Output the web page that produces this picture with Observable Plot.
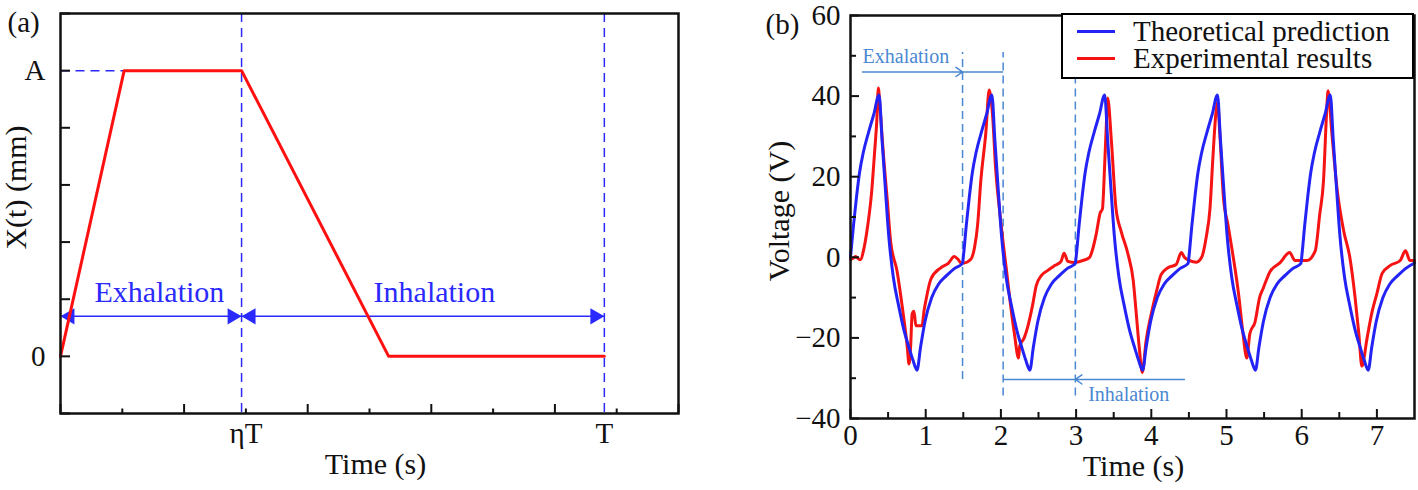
<!DOCTYPE html>
<html>
<head>
<meta charset="utf-8">
<script src="https://cdn.jsdelivr.net/npm/d3@7"></script>
<script src="https://cdn.jsdelivr.net/npm/@observablehq/plot@0.6"></script>
<style>
  html, body { margin: 0; padding: 0; background: #fff; }
  #wrap { position: relative; width: 1418px; height: 490px; overflow: hidden;
          font-family: "Liberation Serif", "DejaVu Serif", serif; }
  #wrap svg.plot { position: absolute; top: 0; }
  #wrap svg text { font-family: "Liberation Serif", "DejaVu Serif", serif; }
  #legend { position: absolute; left: 1061px; top: 13px; width: 353px; height: 66px;
            box-sizing: border-box; border: 2px solid #000; background: #fff;
            font-family: "Liberation Serif", "DejaVu Serif", serif; font-size: 29px; color: #111; }
  #legend .row { position: absolute; left: 0; height: 27px; width: 100%; white-space: nowrap; }
  #legend svg { position: absolute; left: 14px; top: 0; }
  #legend span { position: absolute; left: 70px; top: 0; line-height: 27px; }
</style>
</head>
<body>
<div id="wrap"></div>
<script>
// ================= DATA =================
// Panel (a): displacement profile X(t)
const aTime = [0, 1.03, 2.93, 5.31, 8.8];
const aDisp = [0, 5, 5, 0, 0];
const aEtaT = 2.93, aT = 8.8, aA = 5;
const aXTicksMajor = [0, 2, 4, 6, 8, 10];
const aXTicksMinor = [1, 3, 5, 7, 9];
const aYTicks = [-1, 0, 1, 2, 3, 4, 5, 6];
const aXLabelPos = [3, 8.8];
const aXLabelText = ["ηT", "T"];
const aYLabelPos = [0, 5];
const aYLabelText = ["0", "A"];
const aArrowY = 0.7;
const aPhaseName = ["Exhalation", "Inhalation"];
const aPhaseFrom = [0, 2.93];
const aPhaseTo = [2.93, 8.8];
const aPhaseLabelX = [1.6, 6.05];

// Panel (b): voltage vs time
const theoryT = [
  0.00,0.04,0.08,0.12,0.17,0.24,0.31,0.38,0.42,0.46,0.51,0.57,0.64,0.71,0.78,0.83,0.885,0.93,0.99,1.08,1.17,1.28,1.38,1.49,
  1.50,1.54,1.58,1.62,1.67,1.74,1.81,1.88,1.92,1.96,2.01,2.07,2.14,2.21,2.28,2.33,2.385,2.43,2.49,2.58,2.67,2.78,2.88,2.99,
  3.00,3.04,3.08,3.12,3.17,3.24,3.31,3.38,3.42,3.46,3.51,3.57,3.64,3.71,3.78,3.83,3.885,3.93,3.99,4.08,4.17,4.28,4.38,4.49,
  4.50,4.54,4.58,4.62,4.67,4.74,4.81,4.88,4.92,4.96,5.01,5.07,5.14,5.21,5.28,5.33,5.385,5.43,5.49,5.58,5.67,5.78,5.88,5.99,
  6.00,6.04,6.08,6.12,6.17,6.24,6.31,6.38,6.42,6.46,6.51,6.57,6.64,6.71,6.78,6.83,6.885,6.93,6.99,7.08,7.17,7.28,7.38,7.50
];
const theoryV = [
  0,8,15,21,26,31,35.5,40.3,29,18,5,-5,-12,-18,-22.5,-25.5,-28,-22.5,-16,-10,-6.7,-4.5,-2.8,-1.5,
  0,8,15,21,26,31,35.5,40.3,29,18,5,-5,-12,-18,-22.5,-25.5,-28,-22.5,-16,-10,-6.7,-4.5,-2.8,-1.5,
  0,8,15,21,26,31,35.5,40.3,29,18,5,-5,-12,-18,-22.5,-25.5,-28,-22.5,-16,-10,-6.7,-4.5,-2.8,-1.5,
  0,8,15,21,26,31,35.5,40.3,29,18,5,-5,-12,-18,-22.5,-25.5,-28,-22.5,-16,-10,-6.7,-4.5,-2.8,-1.5,
  0,8,15,21,26,31,35.5,40.3,29,18,5,-5,-12,-18,-22.5,-25.5,-28,-22.5,-16,-10,-6.7,-4.5,-2.8,-1.4
];
const exptT = [
  0.00,0.04,0.07,0.10,0.13,0.18,0.23,0.28,0.32,0.35,0.37,0.39,0.42,0.444,0.49,0.533,0.62,0.69,0.756,0.778,0.80,0.82,0.844,0.87,0.95,0.98,1.00,1.067,1.20,1.30,1.38,1.43,1.47,
  1.51,1.60,1.65,1.69,1.733,1.80,1.844,1.89,1.93,1.98,2.04,2.07,2.11,2.18,2.235,2.25,2.31,2.36,2.42,2.47,2.54,2.62,2.72,2.80,2.84,2.89,2.98,
  3.09,3.18,3.22,3.27,3.32,3.35,3.38,3.40,3.42,3.47,3.53,3.60,3.69,3.76,3.80,3.84,3.88,3.93,4.00,4.07,4.13,4.22,4.33,4.40,4.44,4.51,
  4.60,4.67,4.73,4.78,4.82,4.86,4.88,4.91,4.96,5.02,5.09,5.16,5.22,5.27,5.31,5.38,5.44,5.49,5.58,5.71,5.84,5.91,
  6.07,6.18,6.24,6.29,6.33,6.35,6.40,6.47,6.56,6.64,6.71,6.76,6.80,6.87,6.93,7.00,7.07,7.18,7.31,7.38,7.44,7.50
];
const exptV = [
  -0.6,-0.2,0.2,-0.3,-0.6,2.3,8,16,26,34,42,38,30,24,14,4,-3.5,-12.5,-22.4,-26.5,-22,-14,-13.4,-17,-17,-13,-11,-5.5,-2.6,-1.5,0.2,-0.5,-1.4,
  -1.4,-0.5,2.5,8,19,31,41.5,35,22,12,2,-2.5,-9,-19,-25,-22,-20,-17,-12,-7,-4.5,-3.3,-2,-1,1,-1,-1.3,
  -0.8,0,2,6,11,12,23,32,39.5,28.7,12.2,6.4,0.8,-5.8,-14,-22.4,-28.6,-20.8,-14,-8.4,-4.3,-2.6,-1.8,1.2,0,-0.8,
  -1.2,0,5,12,25,36,38.5,31,14.7,8,0,-9,-19,-25,-19,-16,-10,-7.6,-3.5,-1.4,1.2,-0.8,
  -0.8,1.6,10.7,19,35.5,41.3,31,17,6.4,0,-10,-19,-27,-20,-14,-9,-4,-2,-0.8,1.6,-0.8,-0.8
];
const seriesNames = ["Theoretical prediction", "Experimental results"];
const seriesColors = ["#2323f5", "#f51313"];
const bXTicksMajor = [0, 1, 2, 3, 4, 5, 6, 7];
const bXTicksMinor = [0.5, 1.5, 2.5, 3.5, 4.5, 5.5, 6.5];
const bYTicksMajor = [-40, -20, 0, 20, 40, 60];
const bYTicksMinor = [-30, -10, 10, 30, 50];
// annotation (phase markers) in panel (b)
const bGuideX = [1.49, 2.03, 2.99];
const bGuideLow = [-30.3, -34.4, -34.4];
const bGuideHigh = [50.8, 50.8, 50.8];
const bExhY = 46, bExhFrom = 0.16, bExhTo = 1.49, bExhEnd = 2.03;
const bInhY = -30.3, bInhFrom = 4.44, bInhTo = 2.99, bInhStart = 2.03;
const bExhLabelX = 0.16, bInhLabelX = 3.16;

// ================= DRAW =================
const FONT = '"Liberation Serif", "DejaVu Serif", serif';
const BLUE_A = "#2a2aff";
const ANNO_B = "#4a88d2";
const wrap = document.getElementById("wrap");

// ---------- panel (a) ----------
const aPts = aTime.map((t, i) => ({t, x: aDisp[i]}));
const aPhases = aPhaseName.map((n, i) => ({name: n, from: aPhaseFrom[i], to: aPhaseTo[i], lx: aPhaseLabelX[i], y: aArrowY}));
const aHeadsLeft = aPhases.map(p => ({x: p.from, y: p.y}));
const aHeadsRight = aPhases.map(p => ({x: p.to, y: p.y}));

const plotA = Plot.plot({
  width: 700, height: 490,
  marginLeft: 60, marginRight: 22, marginTop: 13, marginBottom: 77,
  x: {domain: [0, 10]},
  y: {domain: [-1, 6]},
  style: {fontFamily: FONT, fontSize: "29px", color: "#111", background: "transparent", overflow: "visible"},
  marks: [
    Plot.ruleX([aEtaT, aT], {stroke: BLUE_A, strokeWidth: 1.5, strokeDasharray: "9,6"}),
    Plot.link([{x1: 0, x2: aTime[1], y: aA}], {x1: "x1", x2: "x2", y1: "y", y2: "y", stroke: BLUE_A, strokeWidth: 1.5, strokeDasharray: "9,6"}),
    Plot.link(aPhases, {x1: "from", x2: "to", y1: "y", y2: "y", stroke: BLUE_A, strokeWidth: 1.5}),
    Plot.dot(aHeadsLeft, {x: "x", y: "y", symbol: "triangle", r: 6, rotate: -90, fill: BLUE_A, stroke: "none", dx: 9.3}),
    Plot.dot(aHeadsRight, {x: "x", y: "y", symbol: "triangle", r: 6, rotate: 90, fill: BLUE_A, stroke: "none", dx: -9.3}),
    Plot.text(aPhases, {x: "lx", y: "y", text: "name", fill: BLUE_A, fontSize: 30, dy: -24, textAnchor: "middle", lineAnchor: "middle"}),
    Plot.line(aPts, {x: "t", y: "x", stroke: "#ff1010", strokeWidth: 3}),
    Plot.frame({stroke: "#111", strokeWidth: 2.5}),
    Plot.axisX({ticks: aXTicksMajor, tickSize: -9, tickFormat: () => "", strokeWidth: 2, label: null}),
    Plot.axisX({ticks: aXTicksMinor, tickSize: -4.5, tickFormat: () => "", strokeWidth: 2, label: null}),
    Plot.axisX({ticks: aXLabelPos, tickSize: 0, tickPadding: 9, tickFormat: d => aXLabelText[aXLabelPos.indexOf(d)], fontSize: 29, label: null}),
    Plot.axisY({ticks: aYTicks, tickSize: -10, tickFormat: () => "", strokeWidth: 2, label: null}),
    Plot.axisY({ticks: aYLabelPos, tickSize: 0, tickPadding: 15, tickFormat: d => aYLabelText[aYLabelPos.indexOf(d)], fontSize: 29, label: null}),
    Plot.text(["Time (s)"], {frameAnchor: "bottom", text: d => d, textAnchor: "middle", lineAnchor: "middle", dx: 6, dy: 51, fontSize: 30}),
    Plot.text(["X(t) (mm)"], {frameAnchor: "left", text: d => d, rotate: -90, textAnchor: "middle", lineAnchor: "middle", dx: -44, dy: -26, fontSize: 30}),
    Plot.text(["(a)"], {frameAnchor: "top-left", text: d => d, textAnchor: "start", lineAnchor: "middle", dx: -53, dy: 9, fontSize: 29})
  ]
});
plotA.classList.add("plot");
plotA.style.left = "0px";
wrap.appendChild(plotA);

// ---------- panel (b) ----------
const theory = theoryT.map((t, i) => ({t, v: theoryV[i]}));
const expt = exptT.map((t, i) => ({t, v: exptV[i]}));
const guides = bGuideX.map((x, i) => ({x, y1: bGuideLow[i], y2: bGuideHigh[i]}));

const plotB = Plot.plot({
  width: 708, height: 490,
  marginLeft: 140, marginRight: 4, marginTop: 15, marginBottom: 72,
  x: {domain: [0, 7.5]},
  y: {domain: [-40, 60]},
  style: {fontFamily: FONT, fontSize: "29px", color: "#111", background: "transparent", overflow: "visible"},
  marks: [
    Plot.ruleX(guides, {x: "x", y1: "y1", y2: "y2", stroke: ANNO_B, strokeWidth: 1.5, strokeDasharray: "8,5"}),
    Plot.arrow([{x1: bExhFrom, x2: bExhTo, y: bExhY}], {x1: "x1", x2: "x2", y1: "y", y2: "y", stroke: ANNO_B, strokeWidth: 1.5, headLength: 8, headAngle: 70}),
    Plot.link([{x1: bExhTo, x2: bExhEnd, y: bExhY}, {x1: bInhStart, x2: bInhTo, y: bInhY}], {x1: "x1", x2: "x2", y1: "y", y2: "y", stroke: ANNO_B, strokeWidth: 1.5}),
    Plot.arrow([{x1: bInhFrom, x2: bInhTo, y: bInhY}], {x1: "x1", x2: "x2", y1: "y", y2: "y", stroke: ANNO_B, strokeWidth: 1.5, headLength: 8, headAngle: 70}),
    Plot.text(["Exhalation"], {x: () => bExhLabelX, y: () => bExhY, text: d => d, textAnchor: "start", lineAnchor: "middle", fill: ANNO_B, fontSize: 20, dy: -15}),
    Plot.text(["Inhalation"], {x: () => bInhLabelX, y: () => bInhY, text: d => d, textAnchor: "start", lineAnchor: "middle", fill: ANNO_B, fontSize: 20, dy: 15}),
    Plot.line(expt, {x: "t", y: "v", stroke: seriesColors[1], strokeWidth: 3, curve: "monotone-x"}),
    Plot.line(theory, {x: "t", y: "v", stroke: seriesColors[0], strokeWidth: 3, curve: "monotone-x"}),
    Plot.frame({stroke: "#111", strokeWidth: 2.5}),
    Plot.axisX({ticks: bXTicksMajor, tickSize: -9, tickPadding: 15, strokeWidth: 2, fontSize: 29, label: null}),
    Plot.axisX({ticks: bXTicksMinor, tickSize: -6, tickFormat: () => "", strokeWidth: 2, label: null}),
    Plot.axisY({ticks: bYTicksMajor, tickSize: -9, tickPadding: 19, strokeWidth: 2, fontSize: 29, label: null}),
    Plot.axisY({ticks: bYTicksMinor, tickSize: -6, tickFormat: () => "", strokeWidth: 2, label: null}),
    Plot.text(["Time (s)"], {frameAnchor: "bottom", text: d => d, textAnchor: "middle", lineAnchor: "middle", dx: 1, dy: 48, fontSize: 30}),
    Plot.text(["Voltage (V)"], {frameAnchor: "left", text: d => d, rotate: -90, textAnchor: "middle", lineAnchor: "middle", dx: -71, dy: -6, fontSize: 30}),
    Plot.text(["(b)"], {frameAnchor: "top-left", text: d => d, textAnchor: "start", lineAnchor: "middle", dx: -85, dy: 9, fontSize: 29})
  ]
});
plotB.classList.add("plot");
plotB.style.left = "710px";
wrap.appendChild(plotB);

// ---------- legend (HTML, inside panel b) ----------
const legend = document.createElement("div");
legend.id = "legend";
seriesNames.forEach((name, i) => {
  const row = document.createElement("div");
  row.className = "row";
  row.style.top = (i === 0 ? 3 : 30) + "px";
  row.innerHTML = `<svg width="40" height="27"><line x1="0" x2="38" y1="13.5" y2="13.5" stroke="${seriesColors[i]}" stroke-width="3"/></svg><span>${name}</span>`;
  legend.appendChild(row);
});
wrap.appendChild(legend);
</script>
</body>
</html>
